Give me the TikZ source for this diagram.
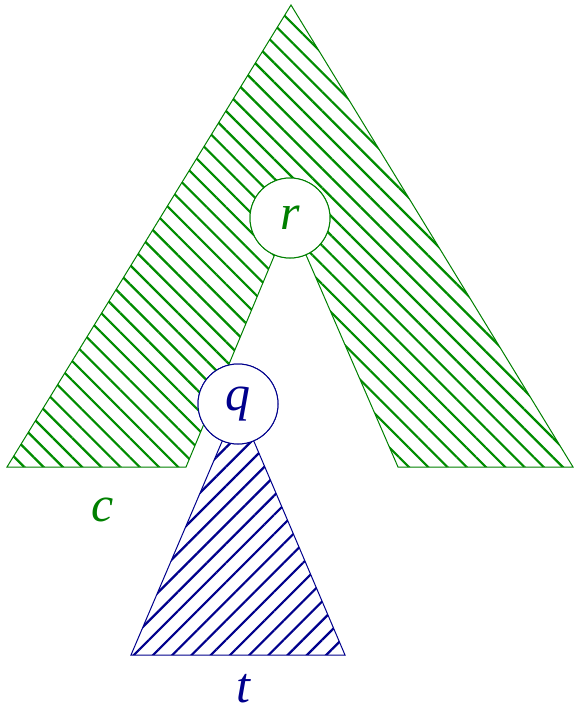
\documentclass[tikz,border=0pt]{standalone}
\usepackage{fontspec}
\setmainfont{Liberation Serif}
\usetikzlibrary{patterns.meta}

\begin{document}
\begin{tikzpicture}[x=0.5pt,y=-0.5pt,
  treeC/.style={draw=green!50!black,line width=0.5pt,
    pattern={Lines[angle=-45,distance=6.8pt,line width=1.1pt]},pattern color=green!55!black},
  treeT/.style={draw=blue!55!black,line width=0.5pt,
    pattern={Lines[angle=45,distance=6.8pt,line width=1.1pt]},pattern color=blue!55!black},
  vertex/.style={circle,draw,fill=white,line width=0.5pt,minimum size=40pt,inner sep=0pt,
    font=\itshape\fontsize{25}{25}\selectfont},
  lbl/.style={font=\itshape\fontsize{25}{25}\selectfont}]
  \useasboundingbox (0,0) rectangle (573,712);
  % nodes first, so the hatched trees can hang on them
  \path (290,218) node[vertex,draw=green!50!black,text=green!50!black] (r) {r};
  \path (238,404) node[vertex,draw=blue!55!black,text=blue!55!black] (q) {q};
  % tree c, with the hole under r
  \draw[treeC] (7,467) -- (291,5) -- (573,467) -- (398,467) -- (r.center) -- (186,467) -- cycle;
  % subtree t under q
  \draw[treeT] (q.center) -- (131,655) -- (345,655) -- cycle;
  % circles again on top
  \path (r) node[vertex,draw=green!50!black,text=green!50!black] {r};
  \path (q) node[vertex,draw=blue!55!black,text=blue!55!black] {q};
  \node[lbl,text=green!50!black] (c) at (103,510) {c};
  \node[lbl,text=blue!55!black] (t) at (243,689) {t};
\end{tikzpicture}
\end{document}
